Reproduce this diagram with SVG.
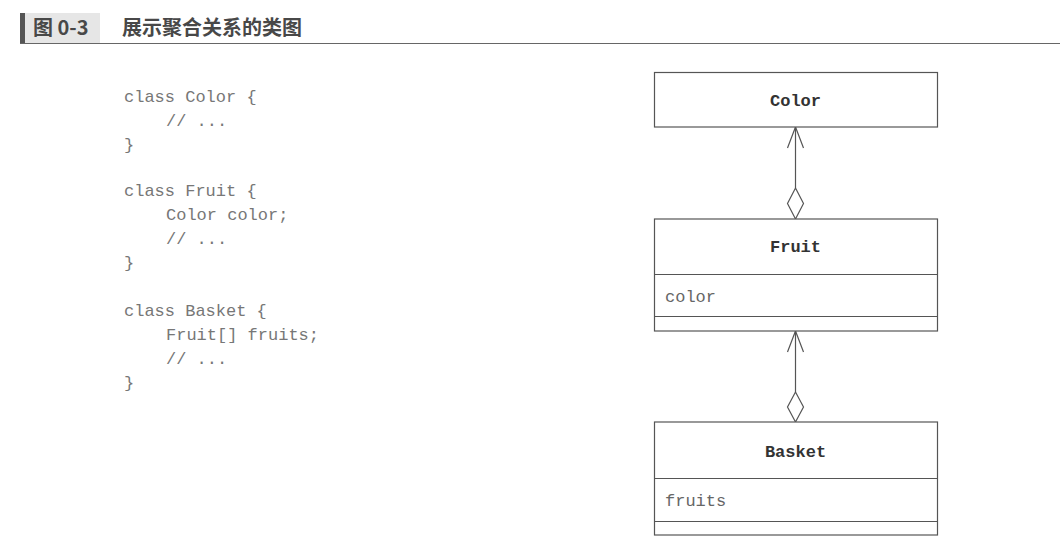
<svg xmlns="http://www.w3.org/2000/svg" width="1060" height="551" viewBox="0 0 1060 551">
<style>
.code{font-family:"Liberation Mono",monospace;font-size:17px;fill:#777}
.name{font-family:"Liberation Mono",monospace;font-size:17px;font-weight:bold;fill:#333;text-anchor:middle}
.attr{font-family:"Liberation Mono",monospace;font-size:17px;fill:#666}
.box{fill:#fff;stroke:#555;stroke-width:1.2}
.div{stroke:#555;stroke-width:1.2}
.conn{stroke:#555;stroke-width:1.2;fill:none}
.dia{fill:#fff;stroke:#555;stroke-width:1.2}
.ttl{font-family:"Noto Sans CJK SC",sans-serif;font-size:20px;font-weight:bold;fill:#484848}
</style>
<rect width="1060" height="551" fill="#fff"/>
<g id="title">
<rect x="20" y="13" width="5" height="30" fill="#555"/>
<rect x="25" y="13" width="75" height="30" fill="#e6e6e6"/>
<text class="ttl" x="33" y="35">图 0-3</text>
<text class="ttl" x="122" y="35">展示聚合关系的类图</text>
<line x1="20" y1="43.5" x2="1060" y2="43.5" stroke="#666" stroke-width="1"/>
</g>
<g id="code">
<text class="code" x="124" y="102">class Color {</text>
<text class="code" x="166" y="126">// ...</text>
<text class="code" x="124" y="150">}</text>
<text class="code" x="124" y="196">class Fruit {</text>
<text class="code" x="166" y="220">Color color;</text>
<text class="code" x="166" y="244">// ...</text>
<text class="code" x="124" y="268">}</text>
<text class="code" x="124" y="316">class Basket {</text>
<text class="code" x="166" y="340">Fruit[] fruits;</text>
<text class="code" x="166" y="364">// ...</text>
<text class="code" x="124" y="388">}</text>
</g>
<g id="connectors">
<line class="conn" x1="795.5" y1="127" x2="795.5" y2="188"/>
<polyline class="conn" points="787.5,148 795.5,127 803.5,148"/>
<polygon class="dia" points="795.5,188 803.5,203.5 795.5,219 787.5,203.5"/>
<line class="conn" x1="795.5" y1="331" x2="795.5" y2="392"/>
<polyline class="conn" points="787.5,352 795.5,331 803.5,352"/>
<polygon class="dia" points="795.5,392 803.5,407 795.5,422 787.5,407"/>
</g>
<g id="Color">
<rect class="box" x="654.5" y="72.5" width="283" height="54.5"/>
<text class="name" x="795.5" y="106">Color</text>
</g>
<g id="Fruit">
<rect class="box" x="654.5" y="219" width="283" height="112"/>
<line class="div" x1="654.5" y1="274.5" x2="937.5" y2="274.5"/>
<line class="div" x1="654.5" y1="316.5" x2="937.5" y2="316.5"/>
<text class="name" x="795.5" y="252">Fruit</text>
<text class="attr" x="665" y="302">color</text>
</g>
<g id="Basket">
<rect class="box" x="654.5" y="422" width="283" height="113"/>
<line class="div" x1="654.5" y1="478.5" x2="937.5" y2="478.5"/>
<line class="div" x1="654.5" y1="521.5" x2="937.5" y2="521.5"/>
<text class="name" x="795.5" y="457">Basket</text>
<text class="attr" x="665" y="506">fruits</text>
</g>
</svg>
